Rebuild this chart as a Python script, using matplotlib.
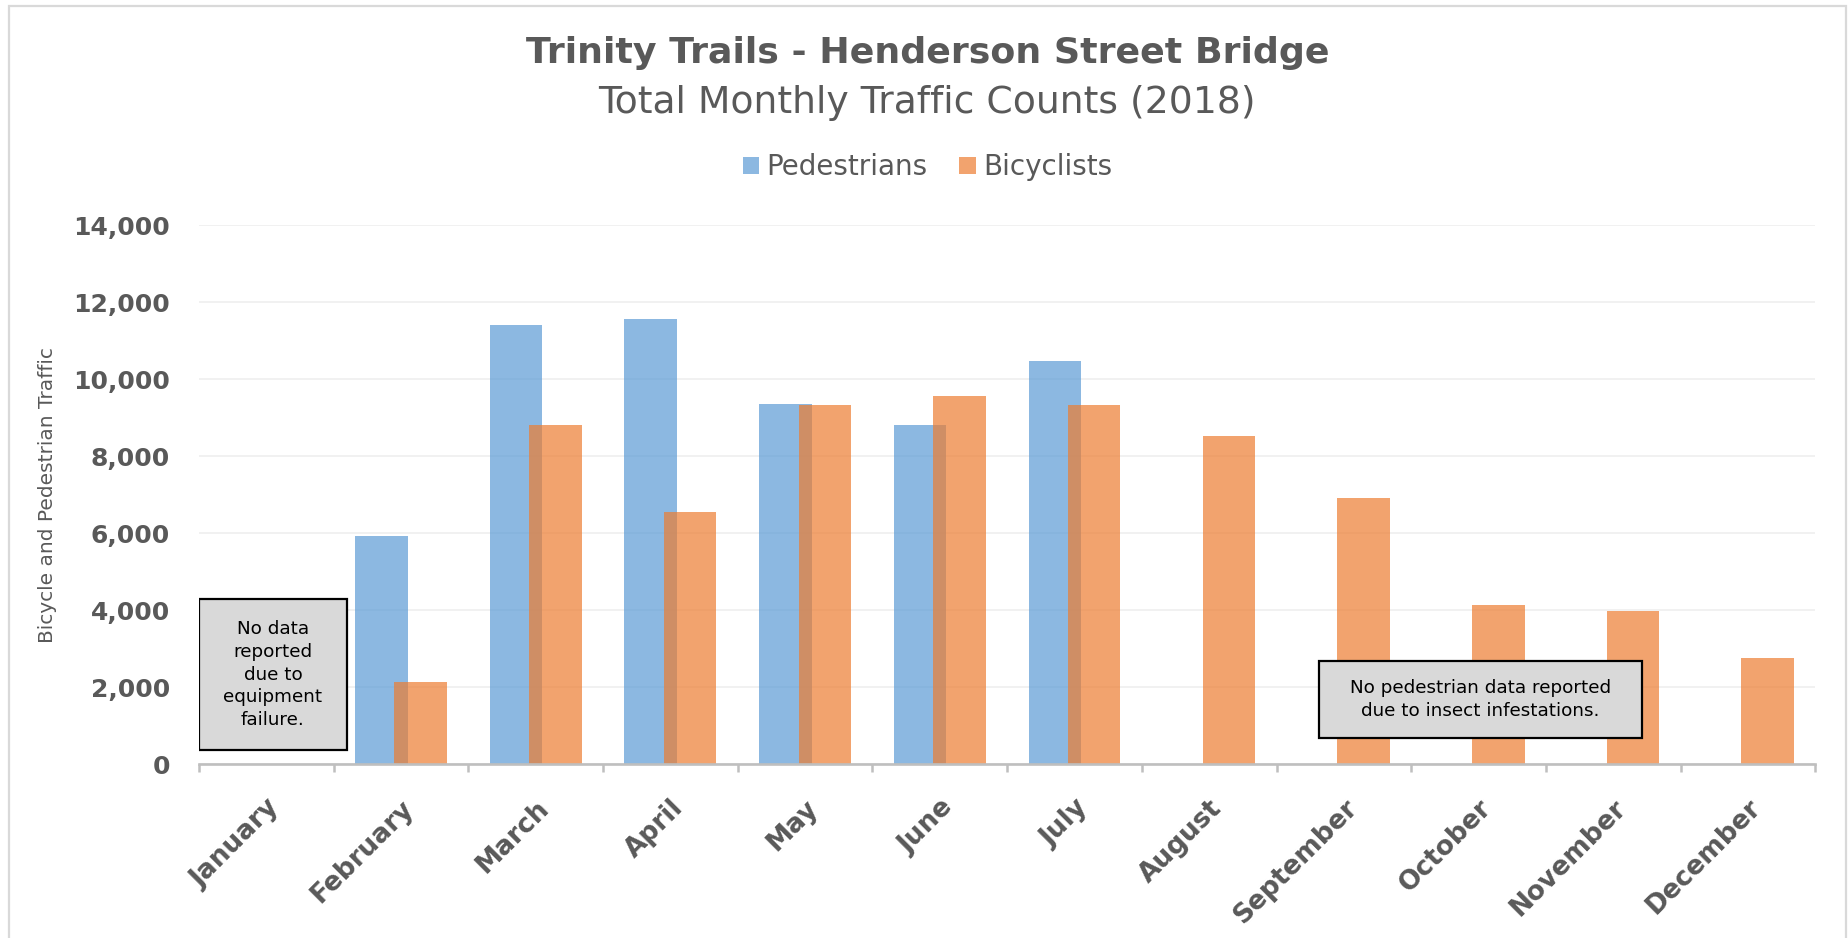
"""
Trinity Trails - Henderson Street Bridge, total monthly traffic counts (2018).
Overlapping clustered bars: pedestrians vs bicyclists.
"""

import matplotlib
matplotlib.use("Agg")
import matplotlib.pyplot as plt
from matplotlib.patches import Rectangle
from matplotlib.ticker import FuncFormatter, MultipleLocator, FixedLocator
import numpy as np

# =============================================================================
# DATA
# =============================================================================

MONTHS = ["January", "February", "March", "April", "May", "June",
          "July", "August", "September", "October", "November", "December"]

# NaN = no data reported
PEDESTRIANS = [np.nan, 5930, 11400, 11570, 9350, 8810,
               10470, np.nan, np.nan, np.nan, np.nan, np.nan]
BICYCLISTS  = [np.nan, 2140, 8810, 6550, 9320, 9560,
               9320, 8510, 6925, 4125, 3985, 2755]

Y_TICKS = [0, 2000, 4000, 6000, 8000, 10000, 12000, 14000]

NOTE_EQUIPMENT = "No data\nreported\ndue to\nequipment\nfailure."
NOTE_INSECTS   = "No pedestrian data reported\ndue to insect infestations."

# =============================================================================
# STYLE
# =============================================================================

BLUE   = "#5B9BD5"
ORANGE = "#ED7D31"
GREY_T = "#595959"
AXIS_C = "#BFBFBF"
GRID_C = "#EFEFEF"

BAR_W  = 0.39
OFFSET = 0.146

plt.rcParams["font.family"] = ["DejaVu Sans"]

fig = plt.figure(figsize=(18.49, 9.38), dpi=100, facecolor="white")
ax = fig.add_axes([0.1076, 0.1852, 0.9818 - 0.1076, 0.7601 - 0.1852])

x = np.arange(len(MONTHS))

# ── Bars ─────────────────────────────────────────────────────────────────────
ped = ax.bar(x - OFFSET, PEDESTRIANS, width=BAR_W, color=BLUE, alpha=0.7,
             linewidth=0, label="Pedestrians", zorder=3)
bic = ax.bar(x + OFFSET, BICYCLISTS, width=BAR_W, color=ORANGE, alpha=0.7,
             linewidth=0, label="Bicyclists", zorder=4)

# ── Axes ─────────────────────────────────────────────────────────────────────
ax.set_xlim(-0.5, len(MONTHS) - 0.5)
ax.set_ylim(0, 14000)
ax.yaxis.set_major_locator(FixedLocator(Y_TICKS))
ax.yaxis.set_major_formatter(FuncFormatter(lambda v, _: f"{v:,.0f}"))
ax.grid(axis="y", color=GRID_C, lw=1.2, zorder=0)
ax.set_axisbelow(True)

for side in ("top", "right", "left"):
    ax.spines[side].set_visible(False)
ax.spines["bottom"].set_color(AXIS_C)
ax.spines["bottom"].set_linewidth(1.9)
ax.spines["bottom"].set_zorder(5)

ax.tick_params(axis="y", length=0, pad=21, labelsize=18, labelcolor=GREY_T)
for lbl in ax.get_yticklabels():
    lbl.set_fontweight("bold")

ax.set_xticks(x)
ax.set_xticklabels(MONTHS, rotation=45, ha="right", va="top",
                   rotation_mode="anchor", fontsize=19, fontweight="bold",
                   color=GREY_T)
ax.tick_params(axis="x", which="major", length=0, pad=22)
ax.xaxis.set_minor_locator(MultipleLocator(1, offset=0.5))
ax.tick_params(axis="x", which="minor", length=6, width=1.8, color=AXIS_C,
               direction="out")

ax.set_ylabel("Bicycle and Pedestrian Traffic", fontsize=14.5, color=GREY_T)
ax.yaxis.set_label_coords(-0.0878, 0.5)

# ── Notes ────────────────────────────────────────────────────────────────────
def note_box(x0, x1, y0, y1, text):
    ax.add_patch(Rectangle((x0, y0), x1 - x0, y1 - y0, facecolor="#D9D9D9",
                           edgecolor="black", lw=1.6, zorder=6))
    ax.text((x0 + x1) / 2, (y0 + y1) / 2, text, ha="center", va="center",
            fontsize=13.2, color="black", linespacing=1.33, zorder=7)

note_box(-0.5, 0.598, 371, 4286, NOTE_EQUIPMENT)
note_box(7.814, 10.216, 675, 2683, NOTE_INSECTS)

# ── Titles & legend ──────────────────────────────────────────────────────────
fig.text(0.5015, 0.9435, "Trinity Trails - Henderson Street Bridge",
         ha="center", va="center", fontsize=26.2, fontweight="bold", color=GREY_T)
fig.text(0.5015, 0.8906, "Total Monthly Traffic Counts (2018)",
         ha="center", va="center", fontsize=27.2, color=GREY_T)

fig.legend(handles=[ped, bic], loc="center", bbox_to_anchor=(0.5015, 0.8215),
           ncol=2, frameon=False, fontsize=20, labelcolor=GREY_T,
           handlelength=0.6, handleheight=0.6, handletextpad=0.25,
           columnspacing=1.15)

# ── Outer chart frame ────────────────────────────────────────────────────────
fig.patches.append(Rectangle((9 / 1849, -0.02), 1837 / 1849, 1.02 - 6 / 938,
                             transform=fig.transFigure, fill=False,
                             edgecolor="#D9D9D9", lw=1.6))

fig.savefig("out.png", dpi=100, facecolor="white")
plt.close(fig)
